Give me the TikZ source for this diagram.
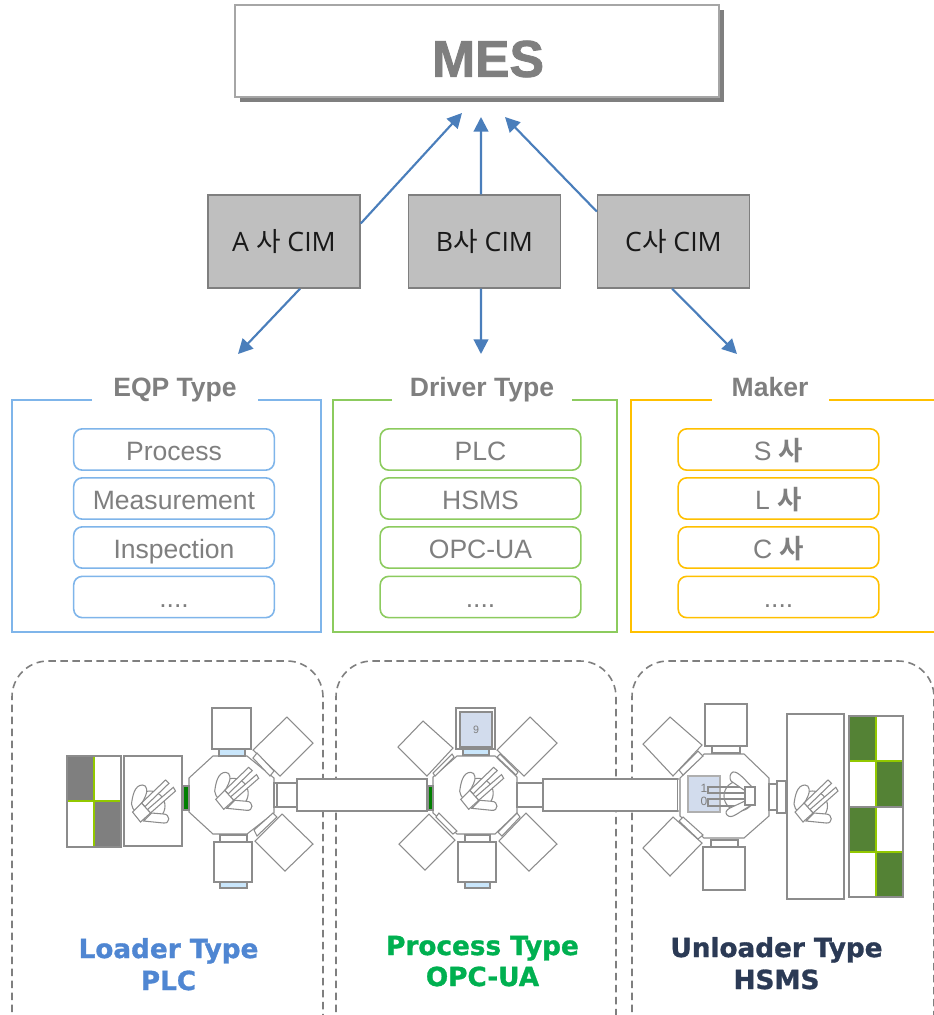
\documentclass[tikz,border=0pt]{standalone}
\usepackage{fontspec}
\usetikzlibrary{arrows.meta}
\setmainfont{Liberation Sans}
\newfontfamily\krfont{Noto Sans CJK KR}
\newfontfamily\krbold{Noto Sans CJK KR Bold}
\newfontfamily\cimlatin{Open Sans}
\newfontfamily\wide[FakeBold=1.2]{DejaVu Sans Bold}
\newfontfamily\heavy[FakeBold=1.6]{Liberation Sans Bold}
\definecolor{eqline}{HTML}{8C8C8C}
\definecolor{txtgray}{HTML}{7F7F7F}
\definecolor{arrowblue}{HTML}{4A7EBB}
\definecolor{cimgray}{HTML}{BFBFBF}
\definecolor{panelblue}{HTML}{7FB5EA}
\definecolor{panelgreen}{HTML}{8CCB5E}
\definecolor{panelyellow}{HTML}{FFC000}
\definecolor{slotblue}{HTML}{C9E6FB}
\definecolor{plate}{HTML}{D2DCED}
\definecolor{darkslot}{HTML}{007F00}
\definecolor{lime}{HTML}{92C800}
\definecolor{cellgreen}{HTML}{548235}
\definecolor{loaderblue}{HTML}{4F86D2}
\definecolor{procgreen}{HTML}{00B050}
\definecolor{unloadnavy}{HTML}{2B3A55}
\tikzset{
  x=0.75pt,y=-0.75pt,
  eq/.style={draw=eqline,line width=0.8pt,fill=white,line join=miter},
  flow/.style={draw=arrowblue,line width=1.6pt,-{Triangle[length=11pt,width=11pt]}},
  cim/.style={draw=txtgray,line width=1.1pt,fill=cimgray,inner sep=0pt,minimum width=114pt,minimum height=69.75pt,font=\cimlatin\fontsize{20}{24}\selectfont,text=black!90},
  item/.style={line width=1.2pt,rounded corners=6.5pt,inner sep=0pt,minimum width=150.5pt,minimum height=31pt,fill=white,font=\fontsize{19.9}{24}\selectfont,text=txtgray,text height=19.8pt,text depth=4pt},
  head/.style={inner sep=0pt,font=\bfseries\fontsize{19.9}{24}\selectfont,text=txtgray,text height=17pt,text depth=5pt},
  panel/.style={line width=1.2pt},
  zone/.style={draw=txtgray,line width=1.2pt,dash pattern=on 5.5pt off 3.5pt,rounded corners=27pt},
  tag/.style={inner sep=0pt,anchor=base,font=\wide\fontsize{19.7}{24}\selectfont},
}
\newcommand{\eqrect}[4]{\draw[eq] (#1,#2) rectangle (#3,#4);}
\newcommand{\slotrect}[4]{\draw[eq,fill=slotblue] (#1,#2) rectangle (#3,#4);}
\newcommand{\robot}[3]{%
 \begin{scope}[shift={(#1,#2)},rotate=#3]
  \draw[eq] (1.5,0) circle (15);
  \draw[eq] (-7,-3) -- (17,-26) -- (20.5,-22.7) -- (-3.5,0.5) -- cycle;
  \draw[eq] (-1,3.5) -- (24.8,-18.7) -- (27,-15) -- (2,7) -- cycle;
  \draw[eq] (-17,-2) .. controls (-16,-10) and (-14,-21) .. (-6,-21) .. controls (-1,-21) and (-1,-14) .. (-3,-10) .. controls (-4,-7) and (-6,-4) .. (-7,-3) -- (-12,6) .. controls (-15,4) and (-17,1) .. (-17,-2) -- cycle;
  \draw[eq] (-5,15) -- (15,17) .. controls (22,18) and (22,8) .. (15,8) -- (3,7) -- cycle;
  \draw[eq] (-16,6) -- (-7,-3) -- (2,7) -- (-8,16) -- cycle;
 \end{scope}}
\begin{document}
\begin{tikzpicture}
\useasboundingbox (0,0) rectangle (934,1015);
\clip (0,0) rectangle (934,1015);

% top
\fill[txtgray] (240,10) rectangle (724,102);
\node[draw=black!35,line width=1.1pt,fill=white,inner sep=0pt,minimum width=363pt,minimum height=69pt] (mes) at (477,51) {};
\node[inner sep=0pt,font=\heavy\fontsize{38.8}{44}\selectfont,text=txtgray] (mestxt) at (488,59) {MES};

\node[cim] (acim) at (284,241.5) {A {\krfont 사} CIM};
\node[cim] (bcim) at (484.5,241.5) {B{\krfont 사} CIM};
\node[cim] (ccim) at (673.5,241.5) {C{\krfont 사} CIM};

\coordinate (mesa) at (462,113);
\coordinate (mesb) at (481,117);
\coordinate (mesc) at (505,117);
\coordinate (downa) at (238,354);
\coordinate (downb) at (481,354);
\coordinate (downc) at (737,354);
\draw[flow] ([yshift=13.5pt]acim.east) -- (mesa);
\draw[flow] ([xshift=-2.6pt]bcim.north) -- (mesb);
\draw[flow] ([yshift=22.5pt]ccim.west) -- (mesc);
\draw[flow] ([xshift=12pt]acim.south) -- (downa);
\draw[flow] ([xshift=-2.6pt]bcim.south) -- (downb);
\draw[flow] ([xshift=-1pt]ccim.south) -- (downc);

% panels
\draw[panel,draw=panelblue] (92,400) -- (12,400) -- (12,632) -- (321,632) -- (321,400) -- (258,400);
\draw[panel,draw=panelgreen] (392,400) -- (333,400) -- (333,632) -- (617,632) -- (617,400) -- (572,400);
\draw[panel,draw=panelyellow] (712,400) -- (631,400) -- (631,632) -- (936,632);
\draw[panel,draw=panelyellow] (829,400) -- (936,400);
\node[head] (h1) at (175,388) {EQP Type};
\node[head] (h2) at (482,388) {Driver Type};
\node[head] (h3) at (770,388) {Maker};

\node[item,draw=panelblue] (p1) at (174,449.5) {Process};
\node[item,draw=panelblue] (p2) at (174,498.5) {Measurement};
\node[item,draw=panelblue] (p3) at (174,547.5) {Inspection};
\node[item,draw=panelblue] (p4) at (174,597) {....};
\node[item,draw=panelgreen] (d1) at (480.5,449.5) {PLC};
\node[item,draw=panelgreen] (d2) at (480.5,498.5) {HSMS};
\node[item,draw=panelgreen] (d3) at (480.5,547.5) {OPC-UA};
\node[item,draw=panelgreen] (d4) at (480.5,597) {....};
\node[item,draw=panelyellow] (m1) at (778.5,449.5) {S {\krbold 사}};
\node[item,draw=panelyellow] (m2) at (778.5,498.5) {L {\krbold 사}};
\node[item,draw=panelyellow] (m3) at (778.5,547.5) {C {\krbold 사}};
\node[item,draw=panelyellow] (m4) at (778.5,597) {....};

% zones
\draw[zone] (12,1060) -- (12,661) -- (323,661) -- (323,1060);
\draw[zone] (336,1060) -- (336,661) -- (616,661) -- (616,1060);
\draw[zone] (632,1060) -- (632,661) -- (934,661) -- (934,1060);

% long transfer boxes
\eqrect{297}{779}{427}{811}
\eqrect{543}{779}{678}{811}

% --- Loader
\draw[eq] (213,756) -- (247,756) -- (274,778) -- (274,813) -- (247,834) -- (213,834) -- (189,812) -- (189,778) -- cycle;
\eqrect{212}{708}{251}{749}
\slotrect{219}{749}{245}{756}
\eqrect{220}{835}{247}{842}
\eqrect{214}{842}{252}{882}
\slotrect{220}{882}{247}{888}
\draw[eq] (287,717) -- (313,743) -- (280,776) -- (253,750) -- cycle;
\draw[eq] (257,753) -- (274,771) -- (270,776) -- (253,758) -- cycle;
\draw[eq] (282,814) -- (313,844) -- (285,871) -- (255,841) -- cycle;
\draw[eq] (254,830) -- (273,813) -- (277,817) -- (257,836) -- cycle;
\eqrect{274}{783}{277}{807}
\eqrect{277}{783}{297}{807}
\draw[draw=eqline,line width=0.8pt,fill=darkslot] (183,786) rectangle (189,810);
\eqrect{124}{756}{182}{846}
\draw[eq] (67,756) rectangle (121,847);
\fill[txtgray] (68,757) rectangle (94,801);
\fill[txtgray] (94,801) rectangle (120,846);
\draw[lime,line width=1.2pt] (94,757) -- (94,846) (68,801) -- (120,801);
\draw[eqline,line width=1.1pt] (67,756) rectangle (121,847);
\robot{148.5}{806}{0}
\robot{231.7}{793.3}{0}

% --- Process
\draw[eq] (457,756) -- (495,756) -- (517,777) -- (517,813) -- (495,834) -- (457,834) -- (433,813) -- (433,777) -- cycle;
\eqrect{456}{708}{495}{749}
\draw[eq,fill=plate] (460,712) rectangle (492,747);
\node[inner sep=0pt,font=\fontsize{8}{9}\selectfont,text=txtgray] (nine) at (476,730) {9};
\slotrect{463}{749}{489}{755}
\eqrect{465}{835}{490}{842}
\eqrect{458}{842}{496}{882}
\slotrect{465}{882}{490}{888}
\draw[eq] (423,721) -- (453,748) -- (427,776) -- (398,747) -- cycle;
\draw[eq] (452,754) -- (454,757) -- (435,776) -- (433,773) -- cycle;
\draw[eq] (530,717) -- (557,743) -- (524,776) -- (497,750) -- cycle;
\draw[eq] (500,754) -- (518,772) -- (516,775) -- (497,757) -- cycle;
\draw[eq] (429,814) -- (455,840) -- (425,870) -- (399,844) -- cycle;
\draw[eq] (439,813) -- (457,831) -- (453,834) -- (436,817) -- cycle;
\draw[eq] (526,813) -- (557,844) -- (529,871) -- (499,841) -- cycle;
\draw[eq] (517,813) -- (520,817) -- (502,836) -- (498,832) -- cycle;
\eqrect{517}{783}{543}{807}
\draw[draw=eqline,line width=0.8pt,fill=darkslot] (428,786) rectangle (433,810);
\robot{476.7}{793.3}{0}

% --- Unloader
\draw[eq] (704,754) -- (744,754) -- (769,778) -- (769,816) -- (744,838) -- (704,838) -- (680,816) -- (680,778) -- cycle;
\eqrect{705}{704}{747}{746}
\eqrect{712}{746}{740}{753}
\eqrect{711}{840}{738}{847}
\eqrect{703}{847}{745}{890}
\draw[eq] (670,717) -- (702,745) -- (673,776) -- (643,744) -- cycle;
\draw[eq] (698,751) -- (703,756) -- (683,775) -- (679,770) -- cycle;
\draw[eq] (673,817) -- (702,843) -- (670,876) -- (643,848) -- cycle;
\draw[eq] (683,817) -- (703,835) -- (698,839) -- (679,821) -- cycle;
\eqrect{769}{784}{777}{810}
\eqrect{777}{781}{786}{813}
\eqrect{787}{714}{844}{899}
\draw[eq,draw=eqline!70] (678,779) -- (680,779) -- (680,811) -- (678,811);
\draw[eq,fill=plate,draw=eqline!70] (688,776) rectangle (720,812);
\node[inner sep=0pt,font=\fontsize{9}{10}\selectfont,text=txtgray] (one) at (704,788) {1};
\node[inner sep=0pt,font=\fontsize{9}{10}\selectfont,text=txtgray] (zero) at (704,801) {0};
\draw[eq] (739,796) circle (15);
\draw[eq,fill=none] (708,787) rectangle (746,793);
\draw[eq,fill=none] (708,799) rectangle (746,806);
\draw[eq] (733,772) .. controls (738,771) and (745,780) .. (752,787) -- (744,790) -- (731,781) .. controls (729,778) and (730,773) .. (733,772) -- cycle;
\draw[eq] (727,815) .. controls (732,820) and (738,812) .. (752,805) -- (745,801) -- (730,808) .. controls (726,810) and (725,813) .. (727,815) -- cycle;
\eqrect{745}{787}{755}{805}
\robot{811}{806}{0}
\fill[cellgreen] (850,717) rectangle (876,761);
\fill[cellgreen] (876,761) rectangle (902,807);
\fill[cellgreen] (850,807) rectangle (876,852);
\fill[cellgreen] (876,852) rectangle (902,896);
\draw[lime,line width=1.2pt] (876,717) -- (876,896) (850,761) -- (902,761) (850,852) -- (902,852);
\draw[eqline,line width=1.1pt] (849,716) rectangle (903,897);
\draw[eqline,line width=1.1pt] (849,807) -- (903,807);

% tags
\node[tag,text=loaderblue] (t1a) at (168.5,958) {Loader Type};
\node[tag,text=loaderblue] (t1b) at (168.5,990) {PLC};
\node[tag,text=procgreen] (t2a) at (482.5,955) {Process Type};
\node[tag,text=procgreen] (t2b) at (482.5,986) {OPC-UA};
\node[tag,text=unloadnavy] (t3a) at (776.5,957) {Unloader Type};
\node[tag,text=unloadnavy] (t3b) at (776.5,989) {HSMS};
\end{tikzpicture}
\end{document}
